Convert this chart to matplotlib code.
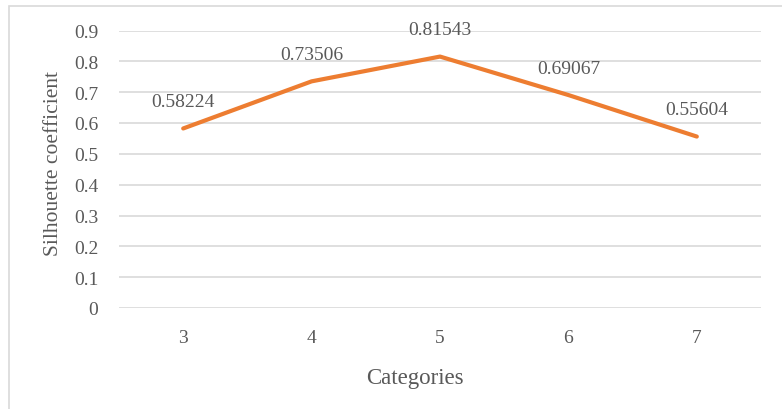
import matplotlib
matplotlib.use("Agg")
import matplotlib.pyplot as plt
from matplotlib.patches import Rectangle

categories = ["3", "4", "5", "6", "7"]
values = [0.58224, 0.73506, 0.81543, 0.69067, 0.55604]
value_labels = ["0.58224", "0.73506", "0.81543", "0.69067", "0.55604"]
yticks = [0, 0.1, 0.2, 0.3, 0.4, 0.5, 0.6, 0.7, 0.8, 0.9]
ytick_labels = ["0", "0.1", "0.2", "0.3", "0.4", "0.5", "0.6", "0.7", "0.8", "0.9"]

W, H = 782, 410
plt.rcParams['font.family'] = ['Liberation Serif', 'DejaVu Serif']
txt = '#595959'
grid = '#D9D9D9'

fig = plt.figure(figsize=(W/100, H/100), dpi=100)
fig.patches.append(Rectangle((9/W, -0.1), 1.2, 1.1 - 7/H, transform=fig.transFigure,
                             fill=False, edgecolor=grid, linewidth=1.2))
ax = fig.add_axes([119/W, 1-309/H, (761-119)/W, (309-31.5)/H])
x = list(range(len(categories)))
ax.plot(x, values, color='#ED7D31', linewidth=3.0, solid_capstyle='round', zorder=3)
for xi, v, lab in zip(x, values, value_labels):
    ax.annotate(lab, (xi, v), xytext=(0, 27), textcoords='offset pixels',
                ha='center', va='center', fontsize=14, color=txt)
ax.set_xlim(-0.5, len(categories) - 0.5)
ax.set_ylim(0, 0.9)
ax.set_yticks(yticks)
ax.set_yticklabels(ytick_labels)
ax.set_xticks(x)
ax.set_xticklabels(categories)
ax.yaxis.grid(True, color=grid, linewidth=1.2)
ax.set_axisbelow(True)
for s in ax.spines.values():
    s.set_visible(False)
ax.tick_params(length=0, labelsize=14, labelcolor=txt)
ax.tick_params(axis='y', pad=15)
ax.tick_params(axis='x', pad=15)
fig.text(415/W, 1-379/H, "Categories", ha='center', va='center', fontsize=16.5, color=txt)
fig.text(54/W, 1-164/H, "Silhouette coefficient", ha='center', va='center', rotation=90,
         fontsize=15.5, color=txt)
fig.savefig("out.png", dpi=100)
